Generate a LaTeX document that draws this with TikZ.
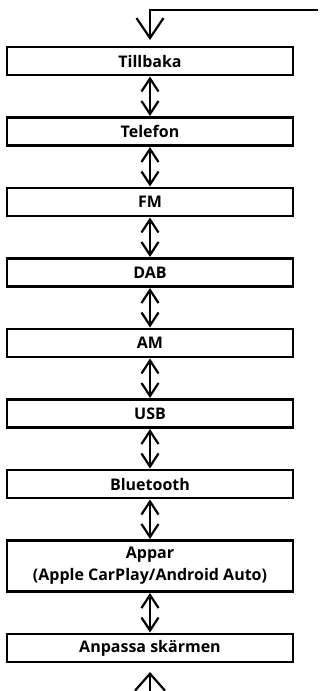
\documentclass[tikz,border=0pt]{standalone}
\usepackage{fontspec}
\setmainfont{Open Sans}
\usetikzlibrary{arrows.meta, positioning}

\begin{document}
\begin{tikzpicture}[
    x=1pt, y=1pt,
    node distance=42.5pt,
    menu/.style={rectangle, draw=black, line width=2.2pt, minimum width=286pt, minimum height=28pt, inner sep=0pt, outer sep=0pt, align=center, font=\bfseries\fontsize{16}{22}\selectfont},
    dbl/.style={{Straight Barb[length=13pt,width=17pt]}-{Straight Barb[length=13pt,width=17pt]}, line width=2.2pt, shorten <=1.5pt, shorten >=1.5pt},
    inarr/.style={-{Straight Barb[length=20pt,width=27pt]}, line width=2.2pt, shorten >=7pt},
    outarr/.style={-{Straight Barb[length=17pt,width=30pt]}, line width=2.2pt, shorten >=10pt}
]
\useasboundingbox (0,0) rectangle (321,-691);

\node[menu] (back) at (150,-61) {Tillbaka};
\node[menu, below=of back] (phone) {Telefon};
\node[menu, below=of phone] (fm) {FM};
\node[menu, below=of fm] (dab) {DAB};
\node[menu, below=of dab] (am) {AM};
\node[menu, below=of am] (usb) {USB};
\node[menu, below=of usb] (bt) {Bluetooth};
\node[menu, minimum height=51pt, below=of bt] (apps) {Appar\\(Apple CarPlay/Android Auto)};
\node[menu, below=of apps] (custom) {Anpassa skärmen};

\coordinate (entry) at (318,-10);
\coordinate (exit) at (150,-691);

\draw[inarr] (entry) -| (back.north);
\draw[dbl] (back) -- (phone);
\draw[dbl] (phone) -- (fm);
\draw[dbl] (fm) -- (dab);
\draw[dbl] (dab) -- (am);
\draw[dbl] (am) -- (usb);
\draw[dbl] (usb) -- (bt);
\draw[dbl] (bt) -- (apps);
\draw[dbl] (apps) -- (custom);
\draw[outarr] (exit) -- (custom.south);

\end{tikzpicture}
\end{document}
